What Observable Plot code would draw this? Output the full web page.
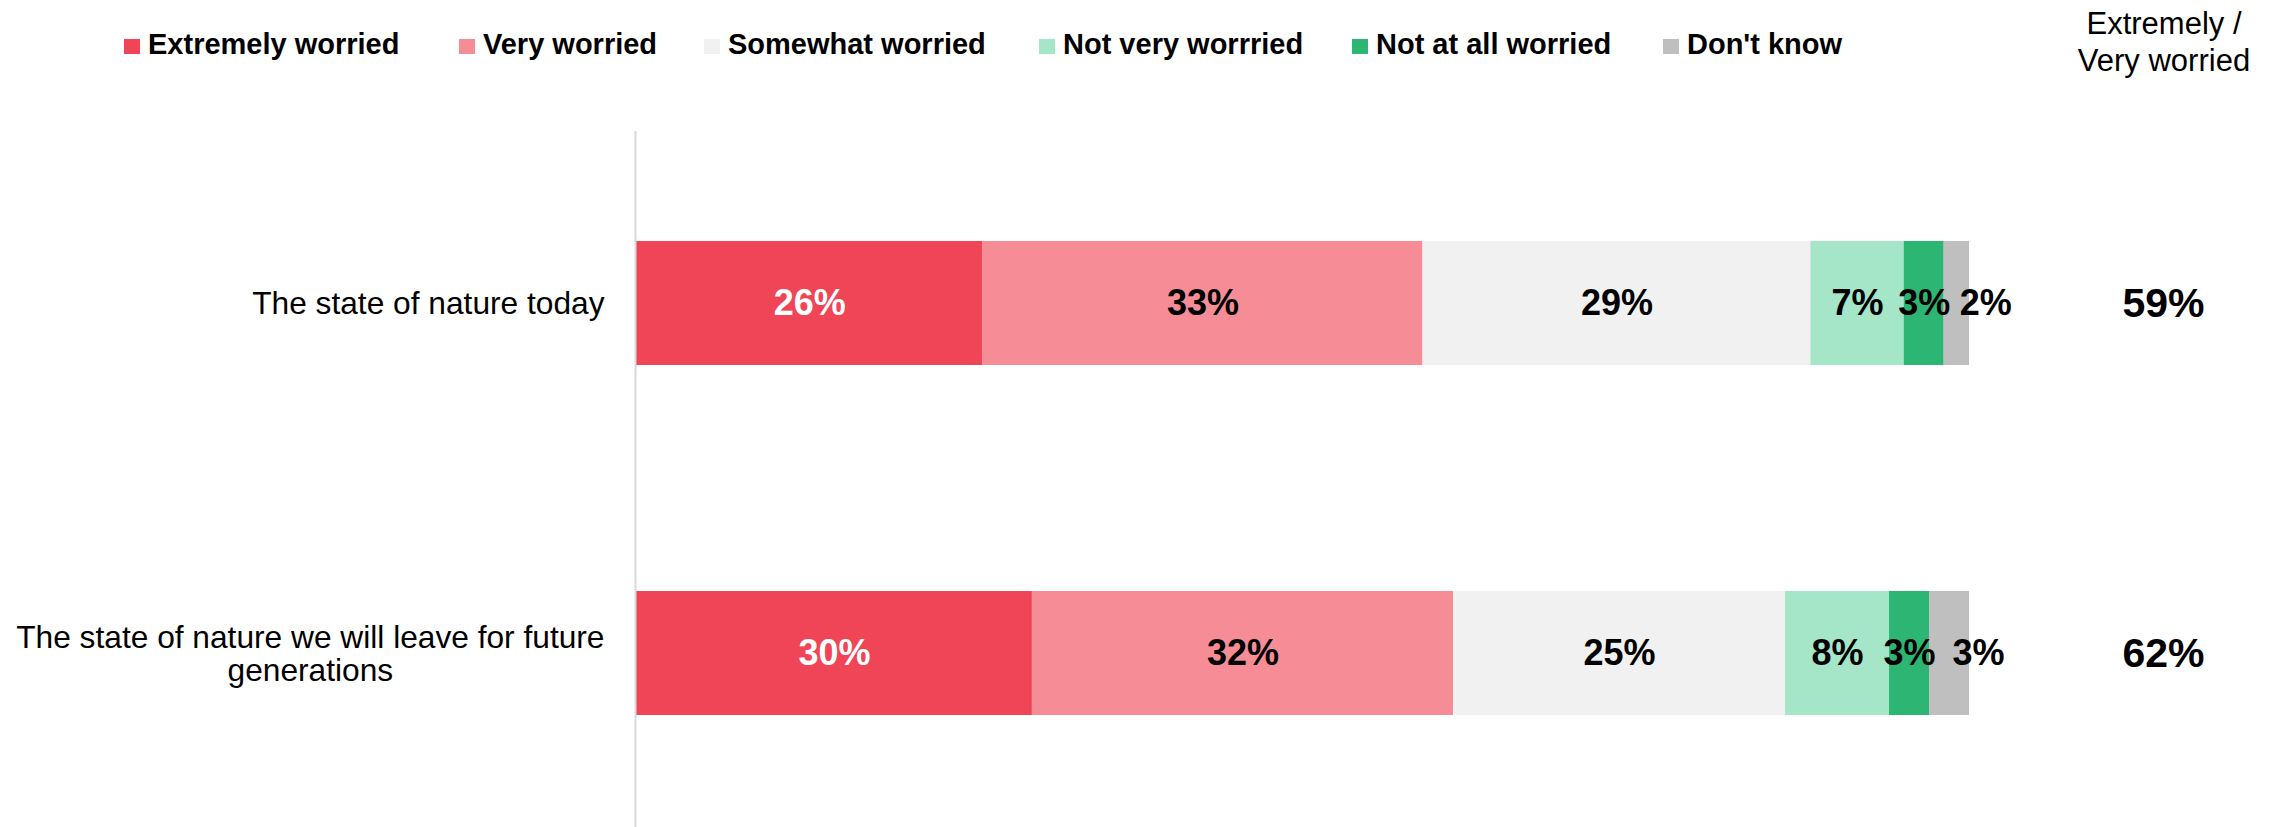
<!DOCTYPE html>
<html><head><meta charset="utf-8">
<script src="https://cdn.jsdelivr.net/npm/d3@7"></script>
<script src="https://cdn.jsdelivr.net/npm/@observablehq/plot@0.6"></script>
<style>
body{margin:0;background:#fff;font-family:"Liberation Sans",Arial,sans-serif;color:#000;}
#wrap{width:2282px;height:827px;overflow:hidden;}
#header{position:relative;height:85px;}
.item{position:absolute;top:30px;display:flex;align-items:center;white-space:nowrap;font-weight:bold;font-size:29px;line-height:29px;}
.sw{width:16px;height:15px;margin-right:8px;position:relative;top:2px;}
#hdr{position:absolute;left:2064px;width:200px;top:5px;text-align:center;font-size:31px;line-height:37px;}
#chart svg{display:block;}
</style></head><body>
<div id="wrap"><div id="header"><div id="hdr">Extremely /<br>Very worried</div></div><div id="chart"></div></div>
<script>
const categories = ["The state of nature today", "The state of nature we will leave for future generations"];
const tickLabels = ["The state of nature today", "The state of nature we will leave for future\ngenerations"];
const responses = ["Extremely worried", "Very worried", "Somewhat worried", "Not very worrried", "Not at all worried", "Don't know"];
const colors = ["#F04556", "#F68D96", "#F1F1F1", "#A5E6C8", "#2DB573", "#BFBFBF"];
const natureToday = [26.0, 33.0, 29.1, 7.0, 3.0, 1.9];
const natureFuture = [29.7, 31.6, 24.9, 7.8, 3.0, 3.0];
const netWorried = [59, 62];

// legend layout (pixel offsets of each legend item)
const legendLeft = [124, 459, 704, 1039, 1352, 1663];
const headerEl = document.getElementById("header");
responses.forEach((r, i) => {
  const it = document.createElement("div"); it.className = "item"; it.style.left = legendLeft[i] + "px";
  const sw = document.createElement("div"); sw.className = "sw"; sw.style.background = colors[i];
  const tx = document.createElement("span"); tx.textContent = r;
  it.append(sw, tx); headerEl.append(it);
});

const data = [];
[natureToday, natureFuture].forEach((vals, i) => vals.forEach((v, j) =>
  data.push({category: categories[i], response: responses[j], value: v})));
const totals = categories.map((c, i) => ({category: c, value: netWorried[i]}));
const fmt = v => Math.round(v) + "%";
const font = '"Liberation Sans", Arial, sans-serif';
const lbl = {fontSize: 36, fontWeight: "bold"};

const chart = Plot.plot({
  width: 2282, height: 742,
  marginTop: 46, marginBottom: 0, marginLeft: 636, marginRight: 313,
  style: {fontFamily: font, background: "white", overflow: "visible", color: "black"},
  x: {domain: [0, 100], axis: null},
  y: {domain: categories, paddingInner: 0.647, paddingOuter: 0.315, align: 0.495, axis: null},
  color: {domain: responses, range: colors},
  marks: [
    Plot.barX(data, {x: "value", y: "category", fill: "response"}),
    Plot.ruleX([0], {stroke: "#D9D9D9", strokeWidth: 2, dx: -1}),
    Plot.axisY({tickSize: 0, tickPadding: 32, fontSize: 31.7, lineHeight: 1.05, fill: "black", label: null,
      tickFormat: d => tickLabels[categories.indexOf(d)]}),
    Plot.text(data, Plot.stackX({x: "value", y: "category",
      text: d => d.response === responses[0] ? fmt(d.value) : "", fill: "white", ...lbl})),
    Plot.text(data, Plot.stackX({x: "value", y: "category",
      text: d => (d.response !== responses[0] && d.response !== responses[5]) ? fmt(d.value) : "", fill: "black", ...lbl})),
    Plot.text(data, Plot.stackX({x: "value", y: "category",
      text: d => d.response === responses[5] ? fmt(d.value) : "", fill: "black", dx: 29, ...lbl})),
    Plot.text(totals, {y: "category", text: d => d.value + "%", frameAnchor: "right", dx: 194,
      textAnchor: "middle", fontSize: 41, fontWeight: "bold", fill: "black"})
  ]
});
document.getElementById("chart").append(chart);
chart.querySelectorAll('g[aria-label="y-axis tick label"] text').forEach(t => {
  const spans = t.querySelectorAll("tspan");
  if (spans.length < 2) return;
  let w = 0; spans.forEach(s => { w = Math.max(w, s.getComputedTextLength()); });
  t.setAttribute("text-anchor", "middle");
  spans.forEach(s => s.setAttribute("x", -w / 2));
});
</script>
</body></html>
